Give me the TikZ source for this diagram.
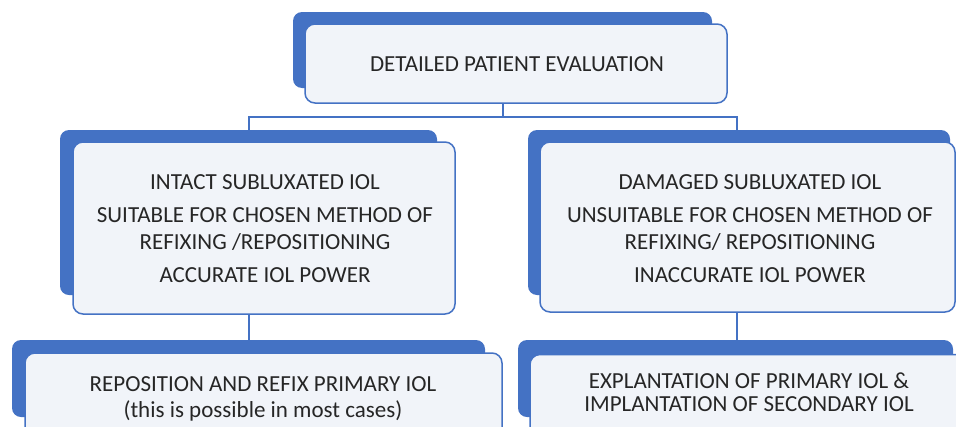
\documentclass[tikz,border=0pt]{standalone}
\usepackage{fontspec}
\setmainfont{Carlito}
\definecolor{iolblue}{HTML}{4472C4}
\definecolor{boxfill}{HTML}{F1F4F9}
\definecolor{ink}{HTML}{262626}
\pgfdeclarelayer{background}
\pgfdeclarelayer{plates}
\pgfsetlayers{background,plates,main}
\begin{document}
\begin{tikzpicture}[x=1pt,y=-1pt,
  backbox/.style={fill=iolblue, rounded corners=9pt},
  frontbox/.style={draw=iolblue, line width=1.5pt, fill=boxfill,
    rounded corners=10pt, inner sep=0pt},
  boxtext/.style={text=ink, align=center, inner sep=0pt,
    font=\fontsize{23}{27}\selectfont},
  link/.style={draw=iolblue, line width=1.6pt}]
\useasboundingbox (0,0) rectangle (956,426);
\clip (0,0) rectangle (956,426);

% white faces of the five boxes
\node[frontbox, minimum width=422pt, minimum height=79pt]  (top)  at (516,63.5)  {};
\node[frontbox, minimum width=382pt, minimum height=172pt] (lmid) at (264,228)   {};
\node[frontbox, minimum width=415pt, minimum height=170pt] (rmid) at (747.5,227) {};
\node[frontbox, minimum width=477pt, minimum height=117pt] (lbot) at (263.5,411.5) {};
\node[frontbox, minimum width=470pt, minimum height=115pt] (rbot) at (765,412)   {};

% branch points of the tree
\coordinate (split) at (503,117);
\coordinate (lt) at (249,117);
\coordinate (rt) at (737,117);

% connectors, beneath everything else
\begin{pgfonlayer}{background}
\path[link] (top.south -| split) -- (split);
\path[link] (lmid.north -| lt) -- (lt) -- (rt) -- (rmid.north -| rt);
\path[link] (lmid.south -| lt) -- (lbot.north -| lt);
\path[link] (rmid.south -| rt) -- (rbot.north -| rt);
\end{pgfonlayer}

% blue backing plates behind the faces
\begin{pgfonlayer}{plates}
\fill[backbox] (293,12)  rectangle (712,88);
\fill[backbox] (60,130)  rectangle (437,295);
\fill[backbox] (528,130) rectangle (950,295);
\fill[backbox] (12,340)  rectangle (485,417);
\fill[backbox] (518,340) rectangle (953,417);
\end{pgfonlayer}

% texts
\node[boxtext] (toptext) at (517,64) {DETAILED PATIENT EVALUATION};
\node[boxtext] (ltext) at (265,228.5) {INTACT SUBLUXATED IOL\\[6pt]
  SUITABLE FOR CHOSEN METHOD OF\\ REFIXING /REPOSITIONING\\[6pt]
  ACCURATE IOL POWER};
\node[boxtext] (rtext) at (750,228.5) {DAMAGED SUBLUXATED IOL\\[6pt]
  UNSUITABLE FOR CHOSEN METHOD OF\\ REFIXING/ REPOSITIONING\\[6pt]
  INACCURATE IOL POWER};
\node[boxtext, font=\fontsize{23}{26}\selectfont] (lbtext) at (263,399)
  {REPOSITION AND REFIX PRIMARY IOL\\ (this is possible in most cases)};
\node[boxtext, font=\fontsize{23}{22.5}\selectfont] (rbtext) at (749,392)
  {EXPLANTATION OF PRIMARY IOL \&\\ IMPLANTATION OF SECONDARY IOL};
\end{tikzpicture}
\end{document}
